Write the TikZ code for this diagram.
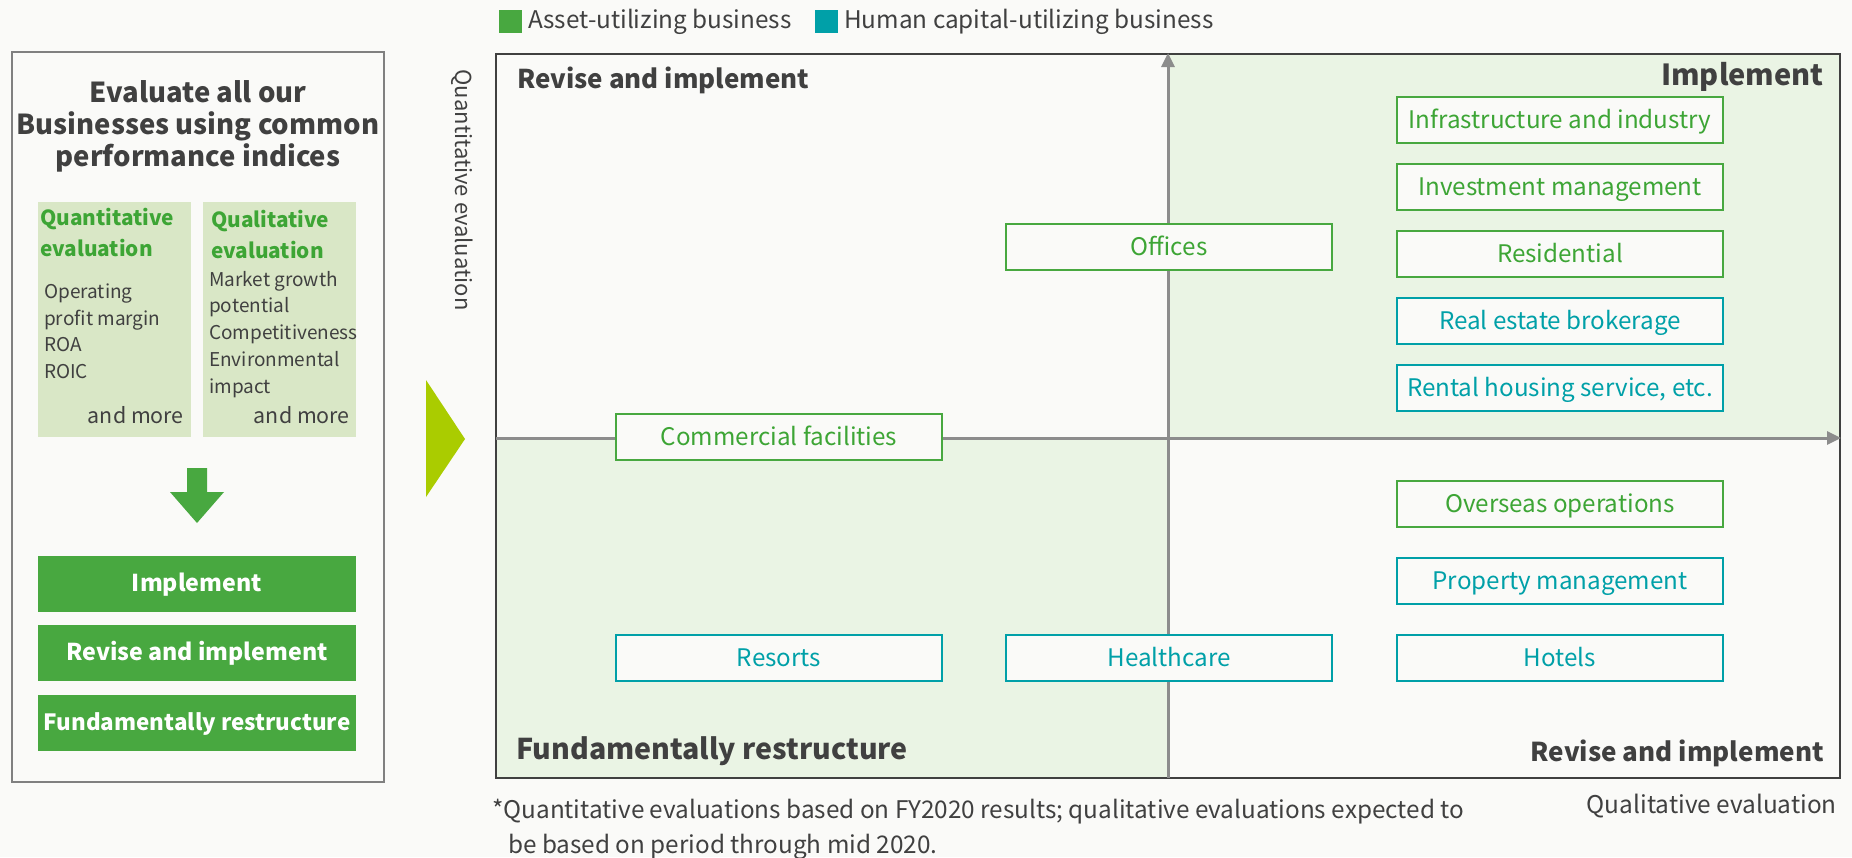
\documentclass[tikz,border=0pt]{standalone}
\usepackage{fontspec}
\setmainfont{Noto Sans CJK JP}
\usetikzlibrary{arrows.meta}

\definecolor{paper}{HTML}{FAFAF8}
\definecolor{ink}{HTML}{404040}
\definecolor{agreen}{HTML}{48A840}
\definecolor{atext}{HTML}{3DA535}
\definecolor{hteal}{HTML}{00A0A8}
\definecolor{palegreen}{HTML}{D9E7C6}
\definecolor{quadgreen}{HTML}{EAF4E4}
\definecolor{axisgrey}{HTML}{8C8C8C}
\definecolor{chevron}{HTML}{AACC00}

\newcommand{\fsz}[1]{\fontsize{#1}{#1}\selectfont}

\begin{document}
\begin{tikzpicture}[x=1pt,y=-1pt,
    biz/.style={draw, line width=2pt, fill=paper, minimum width=326pt, minimum height=46pt, inner sep=0pt,
        text height=16pt, text depth=0pt, font=\fsz{24.2}},
    asset/.style={biz, draw=agreen, text=atext},
    human/.style={biz, draw=hteal, text=hteal},
    verdict/.style={fill=agreen, text=white, minimum width=318pt, minimum height=56pt, inner sep=0pt,
        text height=15pt, text depth=0pt, font=\fsz{23.2}\bfseries},
    quad/.style={text=ink, inner sep=0pt},
    axis/.style={draw=axisgrey, line width=3pt, -{Triangle[length=14pt,width=13pt]}}]

    \useasboundingbox[fill=paper] (0,0) rectangle (1852,857);

    % left panel
    \draw[gray, line width=1.5pt] (12,52) rectangle (384,782);
    \node[text=ink, align=center, font=\fontsize{27.5}{32}\selectfont\bfseries, inner sep=0pt] (title) at (198,126)
        {Evaluate all our\\Businesses using common\\performance indices};

    \fill[palegreen] (38,202) rectangle (191,437);
    \fill[palegreen] (203,202) rectangle (356,437);
    \node[anchor=base west, align=left, text=atext, font=\fontsize{20.8}{31}\selectfont\bfseries, inner sep=0pt] (quanthead) at (40,256)
        {Quantitative\\evaluation};
    \node[anchor=base west, align=left, text=atext, font=\fontsize{20.8}{31}\selectfont\bfseries, inner sep=0pt] (qualhead) at (211,258)
        {Qualitative\\evaluation};
    \node[anchor=base west, align=left, text=ink, font=\fontsize{19}{26.5}\selectfont, inner sep=0pt] (quantlist) at (44,378)
        {Operating\\profit margin\\ROA\\ROIC};
    \node[anchor=base west, align=left, text=ink, font=\fontsize{19}{26.7}\selectfont, inner sep=0pt] (quallist) at (209,393)
        {Market growth\\potential\\Competitiveness\\Environmental\\impact};
    \node[anchor=base east, text=ink, font=\fsz{21.4}, inner sep=0pt] (quantmore) at (184,423) {and more};
    \node[anchor=base east, text=ink, font=\fsz{21.4}, inner sep=0pt] (qualmore) at (350,423) {and more};

    \fill[agreen] (187,468) -- (207,468) -- (207,492) -- (224,492) -- (197,523)
        -- (170,492) -- (187,492) -- cycle;

    \node[verdict] (impl) at (197,584) {Implement};
    \node[verdict] (revise) at (197,653) {Revise and implement};
    \node[verdict, font=\fsz{22.4}\bfseries] (restruct) at (197,722.5) {Fundamentally restructure};

    \fill[chevron] (426,380) -- (465,439) -- (426,497) -- cycle;

    % legend
    \fill[agreen] (499,10) rectangle (522,33);
    \node[anchor=west, text=ink, font=\fsz{24.3}, inner sep=0pt] (assetkey) at (528,21.5) {Asset-utilizing business};
    \fill[hteal] (815,10) rectangle (838,33);
    \node[anchor=west, text=ink, font=\fsz{24.3}, inner sep=0pt] (humankey) at (844,21.5) {Human capital-utilizing business};

    % matrix
    \fill[quadgreen] (1168,54) rectangle (1840,438);
    \fill[quadgreen] (496,438) rectangle (1168,778);
    \draw[ink, line width=1.2pt] (496,54) rectangle (1840,778);

    \coordinate (xl) at (496,438);
    \coordinate (xr) at (1841,438);
    \coordinate (yb) at (1168,778);
    \coordinate (yt) at (1168,53);
    \draw[axis] (xl) -- (xr);
    \draw[axis] (yb) -- (yt);

    \node[quad, anchor=west, font=\fsz{25.9}\bfseries] (topleft) at (517,80) {Revise and implement};
    \node[quad, anchor=east, font=\fsz{29}\bfseries] (topright) at (1824,77) {Implement};
    \node[quad, anchor=west, font=\fsz{28.6}\bfseries] (bottomleft) at (516,751) {Fundamentally restructure};
    \node[quad, anchor=east, font=\fsz{26}\bfseries] (bottomright) at (1824,753) {Revise and implement};

    \node[text=ink, rotate=-90, font=\fsz{22}, inner sep=0pt] (yaxis) at (462,190) {Quantitative evaluation};
    \node[anchor=east, text=ink, font=\fsz{24.4}, inner sep=0pt] (xaxis) at (1837,806) {Qualitative evaluation};

    \node[asset] (infra) at (1560,120) {Infrastructure and industry};
    \node[asset] (invest) at (1560,187) {Investment management};
    \node[asset] (resid) at (1560,254) {Residential};
    \node[human] (broker) at (1560,321) {Real estate brokerage};
    \node[human] (rental) at (1560,388) {Rental housing service, etc.};
    \node[asset] (offices) at (1169,247) {Offices};
    \node[asset] (commercial) at (779,437) {Commercial facilities};
    \node[asset] (overseas) at (1560,504) {Overseas operations};
    \node[human] (propman) at (1560,581) {Property management};
    \node[human] (resorts) at (779,658) {Resorts};
    \node[human] (health) at (1169,658) {Healthcare};
    \node[human] (hotels) at (1560,658) {Hotels};

    % footnote
    \node[anchor=west, align=left, text=ink, font=\fontsize{24.3}{35}\selectfont, inner sep=0pt] (note) at (492,829)
        {*Quantitative evaluations based on FY2020 results; qualitative evaluations expected to\\
        \hspace*{16pt}be based on period through mid 2020.};
\end{tikzpicture}
\end{document}
